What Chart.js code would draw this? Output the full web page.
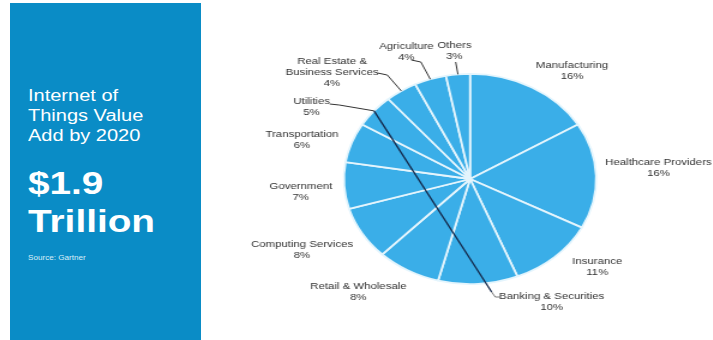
<!DOCTYPE html>
<html>
<head>
<meta charset="utf-8">
<script src="https://cdn.jsdelivr.net/npm/chart.js@4/dist/chart.umd.min.js"></script>
<style>
  html, body { margin: 0; padding: 0; background: #fff; }
  body { width: 713px; height: 340px; position: relative; overflow: hidden; font-family: "Liberation Sans", Arial, sans-serif; }
  .panel { position: absolute; left: 10px; top: 3px; width: 191px; height: 337px; background: #0a8cc6; }
  .txt { position: absolute; left: 28px; color: #fff; white-space: nowrap; transform: scaleX(1.25); transform-origin: 0 0; }
  .title { top: 86px; font-size: 16px; line-height: 20px; }
  .big { top: 165px; font-size: 31px; line-height: 38px; font-weight: bold; }
  .src { top: 254px; font-size: 6.5px; line-height: 8px; color: #dbeef8; }
  .wrap { position: absolute; left: 210px; top: 0; width: 419px; height: 340px; transform: scaleX(1.2); transform-origin: 0 0; }
</style>
</head>
<body>
<div class="panel"></div>
<div class="txt title">Internet of<br>Things Value<br>Add by 2020</div>
<div class="txt big">$1.9<br>Trillion</div>
<div class="txt src">Source: Gartner</div>
<div class="wrap"><canvas id="pie-chart"></canvas></div>

<script>
// Value added by sector, percent (clockwise from 12 o'clock)
var sectors = [
    'Manufacturing', 'Healthcare Providers', 'Insurance', 'Banking & Securities',
    'Retail & Wholesale', 'Computing Services', 'Government', 'Transportation',
    'Utilities', 'Real Estate &\nBusiness Services', 'Agriculture', 'Others'
];
var shares = [16, 16, 11, 10, 8, 8, 7, 6, 5, 4, 4, 3];

// label spots, px from the pie centre (before the horizontal stretch)
var labelSpots = [
    [85, -114], [157, -17], [106, 82], [68, 117],
    [-93, 107], [-140, 65], [-141, 7], [-140, -45],
    [-132, -78], [-115, -118], [-53, -133], [-13, -134]
];
// leader elbows for the crowded slices, px from centre
var leaders = {
    8: [[-117, -75], [-109, -74]],
    9: [[-77, -106], [-69, -104]],
    10: [[-49, -119], [-41, -117]],
    11: [[-12, -117]]
};

var pieLabels = {
    id: 'pieLabels',
    afterDraw: function(chart) {
        var ctx = chart.ctx;
        var meta = chart.getDatasetMeta(0);
        ctx.save();

        // leader lines
        ctx.strokeStyle = '#333';
        ctx.lineWidth = 1;
        Object.keys(leaders).forEach(function(k) {
            var arc = meta.data[k];
            var mid = (arc.startAngle + arc.endAngle) / 2;
            var pts = leaders[k];
            ctx.beginPath();
            ctx.moveTo(arc.x + pts[0][0], arc.y + pts[0][1]);
            for (var j = 1; j < pts.length; j++) {
                ctx.lineTo(arc.x + pts[j][0], arc.y + pts[j][1]);
            }
            ctx.lineTo(arc.x + Math.cos(mid) * arc.outerRadius, arc.y + Math.sin(mid) * arc.outerRadius);
            ctx.stroke();
        });

        // the long dark line running across to Banking & Securities
        var u = meta.data[8];
        var um = (u.startAngle + u.endAngle) / 2;
        ctx.strokeStyle = '#14284a';
        ctx.lineWidth = 1.3;
        ctx.beginPath();
        ctx.moveTo(u.x + Math.cos(um) * u.outerRadius, u.y + Math.sin(um) * u.outerRadius);
        ctx.lineTo(u.x + 18, u.y + 113);
        ctx.stroke();
        ctx.strokeStyle = '#555';
        ctx.lineWidth = 0.8;
        ctx.beginPath();
        ctx.moveTo(u.x + 18, u.y + 113);
        ctx.lineTo(u.x + 21, u.y + 118);
        ctx.lineTo(u.x + 25, u.y + 118);
        ctx.stroke();

        // text
        ctx.fillStyle = '#333';
        ctx.font = '9.5px "Liberation Sans", Arial, sans-serif';
        ctx.textAlign = 'center';
        ctx.textBaseline = 'middle';
        meta.data.forEach(function(arc, i) {
            var lines = sectors[i].split('\n');
            lines.push(shares[i] + '%');
            for (var j = 0; j < lines.length; j++) {
                ctx.fillText(lines[j], arc.x + labelSpots[i][0], arc.y + labelSpots[i][1] + j * 11);
            }
        });
        ctx.restore();
    }
};

var ctx = document.getElementById('pie-chart').getContext('2d');
new Chart(ctx, {
    type: 'pie',
    data: {
        labels: sectors,
        datasets: [{
            data: shares,
            backgroundColor: '#3aaee8',
            borderColor: '#e4f5fd',
            borderWidth: 1.8
        }]
    },
    options: {
        responsive: true,
        maintainAspectRatio: false,
        animation: false,
        layout: {
            padding: { left: 110.7, right: 96.3, top: 73, bottom: 55 }
        },
        plugins: {
            legend: { display: false },
            tooltip: { enabled: false }
        }
    },
    plugins: [pieLabels]
});
</script>
</body>
</html>
